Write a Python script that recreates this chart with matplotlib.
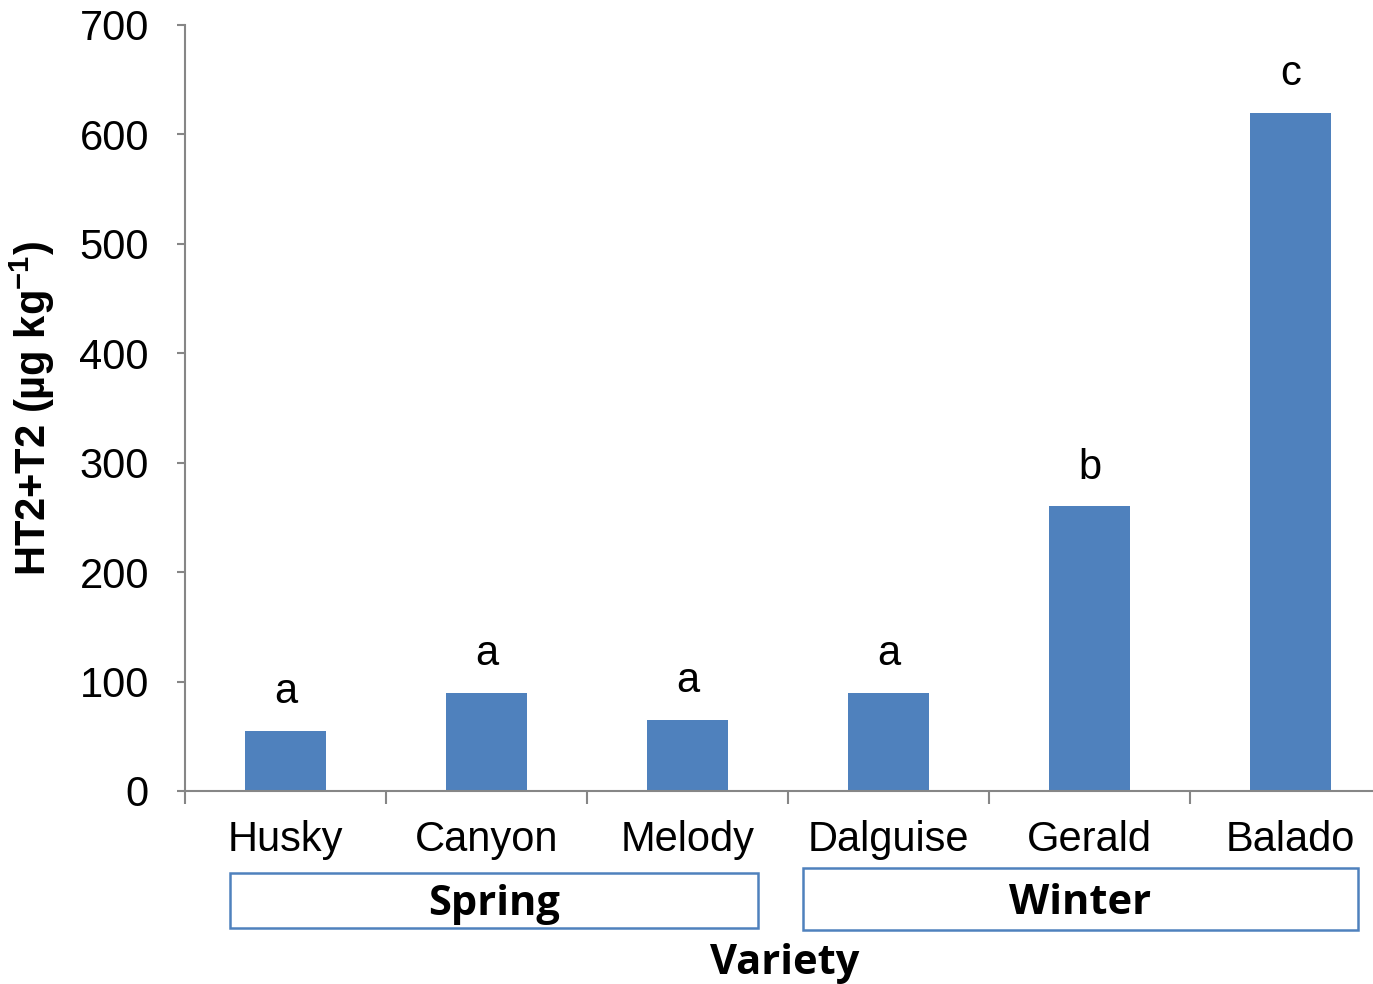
import matplotlib.pyplot as plt
import numpy as np
from matplotlib.patches import Rectangle

varieties = ['Husky', 'Canyon', 'Melody', 'Dalguise', 'Gerald', 'Balado']
ht2_t2 = [55, 90, 65, 90, 260, 620]
letters = ['a', 'a', 'a', 'a', 'b', 'c']
seasons = ['Spring', 'Winter']

plt.rcParams['font.family'] = ['Liberation Sans', 'DejaVu Sans']

fig = plt.figure(figsize=(13.73, 9.84), dpi=100)
# axis runs a little past the right edge of the figure
ax = fig.add_axes([185/1373, 193/984, 1206/1373, 766/984])

x = np.arange(len(varieties))
ax.bar(x, ht2_t2, width=0.4, color='#4F81BD')
for xi, v, l in zip(x, ht2_t2, letters):
    ax.annotate(l, (xi, v), xytext=(0, 20), textcoords='offset points',
                ha='center', va='baseline', fontsize=30)

ax.set_xlim(-0.5, len(varieties) - 0.5)
ax.set_ylim(0, 700)
ax.set_yticks(np.arange(0, 701, 100))
ax.set_xticks(x)
ax.set_xticklabels(varieties)
ax.set_xticks(np.arange(-0.5, len(varieties)), minor=True)

for s in ['top', 'right']:
    ax.spines[s].set_visible(False)
for s in ['left', 'bottom']:
    ax.spines[s].set_color('#868686')
    ax.spines[s].set_linewidth(1.5)

ax.tick_params(axis='y', direction='out', length=6, width=1.5, color='#868686',
               labelsize=30, pad=20)
ax.tick_params(axis='x', which='major', length=0, labelsize=30, pad=21)
ax.tick_params(axis='x', which='minor', direction='out', length=9, width=1.5,
               color='#868686')

ax.set_ylabel('HT2+T2 (µg kg$^{\\mathregular{-1}}$)', fontsize=30,
              fontweight='bold', labelpad=16)

# season boxes under the variety names
boxes = [(230, 873, 528, 55), (803, 868, 555, 62)]
for name, (bx, by, bw, bh) in zip(seasons, boxes):
    fig.patches.append(Rectangle((bx/1373, 1 - (by + bh)/984), bw/1373, bh/984,
                                 transform=fig.transFigure, fill=False,
                                 edgecolor='#4F81BD', linewidth=1.8))
    fig.text((bx + bw/2)/1373, 1 - (by + bh/2 + 4)/984, name, ha='center',
             va='center', fontsize=30, fontweight='bold',
             family=['Open Sans', 'DejaVu Sans'])

fig.text(785/1373, 1 - 964/984, 'Variety', ha='center', va='center',
         fontsize=30, fontweight='bold', family=['Open Sans', 'DejaVu Sans'])

fig.savefig('out.png', dpi=100)
